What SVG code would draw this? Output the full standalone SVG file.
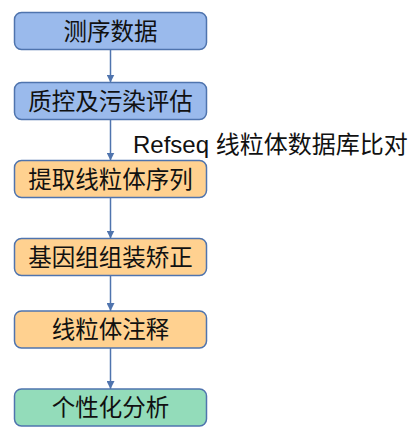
<svg xmlns="http://www.w3.org/2000/svg" width="411" height="436" viewBox="0 0 411 436">
<defs>
<style>
.box{stroke:#4F74AE;stroke-width:1.5}
.blue{fill:#9ABAEC}
.orange{fill:#FFD190}
.green{fill:#93DCBA}
.t{font-family:"Liberation Sans","Noto Sans CJK SC",sans-serif;font-size:23.5px;fill:#111;text-anchor:middle;dominant-baseline:central}
.lab{font-family:"Liberation Sans","Noto Sans CJK SC",sans-serif;font-size:24px;fill:#111}
.c{stroke:#4F74AE;stroke-width:1.5;fill:none;marker-end:url(#ah)}
</style>
<marker id="ah" viewBox="0 0 10 10" refX="10" refY="5" markerWidth="8" markerHeight="8" markerUnits="userSpaceOnUse" orient="auto">
<path d="M0,0 L10,5 L0,10 z" fill="#4F74AE"/>
</marker>
</defs>
<rect width="411" height="436" fill="#fff"/>
<g id="connectors">
<line class="c" x1="110.5" y1="49.5" x2="110.5" y2="82.5"/>
<line class="c" x1="110.5" y1="119.5" x2="110.5" y2="160.5"/>
<line class="c" x1="110.5" y1="197.5" x2="110.5" y2="238.5"/>
<line class="c" x1="110.5" y1="275.5" x2="110.5" y2="311"/>
<line class="c" x1="110.5" y1="348" x2="110.5" y2="389"/>
<text class="lab" x="133" y="153">Refseq 线粒体数据库比对</text>
</g>
<g id="n1"><rect class="box blue" x="14.5" y="12.5" width="192" height="37" rx="7"/><text class="t" x="110.5" y="31.5">测序数据</text></g>
<g id="n2"><rect class="box blue" x="14.5" y="82.5" width="192" height="37" rx="7"/><text class="t" x="110.5" y="101.5">质控及污染评估</text></g>
<g id="n3"><rect class="box orange" x="14.5" y="160.5" width="192" height="37" rx="7"/><text class="t" x="110.5" y="179.5">提取线粒体序列</text></g>
<g id="n4"><rect class="box orange" x="14.5" y="238.5" width="192" height="37" rx="7"/><text class="t" x="110.5" y="257.5">基因组组装矫正</text></g>
<g id="n5"><rect class="box orange" x="14.5" y="311" width="192" height="37" rx="7"/><text class="t" x="110.5" y="330">线粒体注释</text></g>
<g id="n6"><rect class="box green" x="14.5" y="389" width="192" height="37" rx="7"/><text class="t" x="110.5" y="408">个性化分析</text></g>
</svg>
